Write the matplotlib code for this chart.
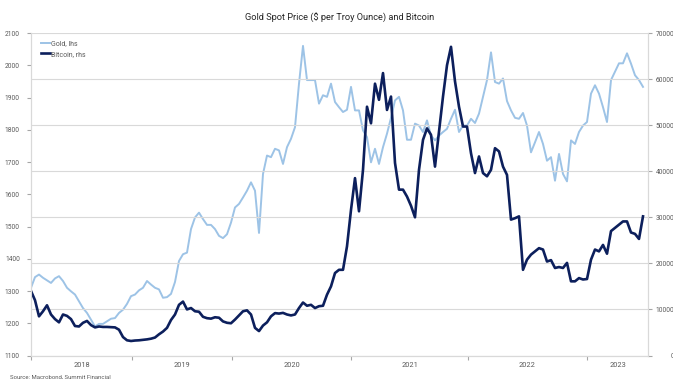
import numpy as np
import matplotlib.pyplot as plt

plt.rcParams['font.family'] = ['Roboto', 'DejaVu Sans']

# Weekly-ish samples, Jan 2018 -> mid 2023
gold = [1310, 1343, 1351, 1341, 1333, 1325, 1339, 1346, 1331, 1310,
        1299, 1289, 1268, 1247, 1232, 1211, 1190, 1198, 1198, 1206,
        1214, 1216, 1232, 1242, 1260, 1284, 1289, 1302, 1310, 1331,
        1320, 1310, 1305, 1279, 1281, 1291, 1328, 1393, 1414, 1419,
        1492, 1528, 1543, 1523, 1505, 1505, 1492, 1471, 1464, 1476,
        1512, 1559, 1570, 1590, 1611, 1637, 1611, 1480, 1663, 1720,
        1715, 1741, 1736, 1694, 1746, 1772, 1808, 1943, 2060, 1954,
        1954, 1954, 1881, 1907, 1902, 1943, 1886, 1870, 1855, 1862,
        1933, 1860, 1860, 1798, 1777, 1699, 1741, 1694, 1746, 1788,
        1837, 1891, 1902, 1860, 1769, 1769, 1819, 1813, 1793, 1829,
        1782, 1767, 1782, 1793, 1803, 1834, 1862, 1793, 1813, 1813,
        1834, 1821, 1850, 1902, 1954, 2040, 1948, 1943, 1959, 1889,
        1860, 1837, 1834, 1852, 1813, 1730, 1761, 1793, 1756, 1704,
        1715, 1642, 1725, 1663, 1640, 1767, 1756, 1793, 1813, 1824,
        1912, 1938, 1912, 1870, 1824, 1954, 1980, 2006, 2006, 2037,
        2005, 1969, 1954, 1933]

bitcoin = [14000, 12000, 8500, 9600, 10900, 8900, 7900, 7200, 8900, 8600,
           7900, 6400, 6300, 7100, 7500, 6600, 6100, 6300, 6200, 6200,
           6150, 6100, 5600, 4000, 3300, 3150, 3250, 3300, 3400, 3500,
           3650, 3900, 4600, 5200, 6000, 7700, 8900, 11000, 11700, 10000,
           10300, 9600, 9500, 8400, 8100, 8000, 8300, 8200, 7400, 7100,
           7000, 7800, 8700, 9600, 9800, 8900, 6000, 5300, 6500, 7200,
           8500, 9200, 9100, 9250, 8900, 8700, 8900, 10300, 11500, 10800,
           11000, 10300, 10700, 10800, 13200, 15000, 17900, 18600, 18600, 23700,
           31600, 38500, 31300, 40300, 54000, 50400, 59000, 55500, 61300, 53300,
           56200, 41800, 36000, 36000, 34500, 32500, 30000, 40300, 46800, 49300,
           47900, 41000, 48600, 56200, 63000, 67000, 59500, 54000, 49700, 49700,
           43900, 39600, 43200, 39600, 38900, 40300, 45000, 44300, 41000, 39200,
           29500, 29800, 30200, 18600, 20800, 21900, 22600, 23300, 23000, 20400,
           20700, 19000, 19200, 19000, 20100, 16100, 16100, 16800, 16500, 16600,
           20800, 23000, 22600, 24000, 22100, 27000, 27700, 28400, 29100, 29100,
           26700, 26400, 25300, 30200]

years = ['2018', '2019', '2020', '2021', '2022', '2023']
year_starts = [0, 25.25, 50.25, 80, 109.25, 139]
x_end = 154.25

x = np.arange(len(gold))

fig = plt.figure(figsize=(6.73, 3.79), dpi=100)
ax = fig.add_axes([31/673, 1 - 355.5/379, 617/673, 322.5/379])
ax2 = ax.twinx()

grey = '#595959'
light = '#d9d9d9'

l1, = ax.plot(x, gold, color='#9dc3e6', lw=1.4)
l2, = ax2.plot(x, bitcoin, color='#0c1f5c', lw=1.9)

ax.set_xlim(0, x_end)
ax.set_ylim(1100, 2100)
ax.set_yticks(np.arange(1100, 2101, 100))
ax2.set_ylim(0, 70000)
ax2.set_yticks(np.arange(0, 70001, 10000))

ax2.grid(axis='y', color=light, lw=0.8)
ax2.set_axisbelow(True)

# year boundaries as ticks, year names centred in between
mids = [(a + b) / 2 for a, b in zip(year_starts, year_starts[1:] + [x_end])]
ax.set_xticks(year_starts)
ax.set_xticklabels([])
ax.set_xticks(mids, minor=True)
ax.set_xticklabels(years, minor=True)
ax.tick_params(axis='x', which='major', length=3, color='#a6a6a6')
ax.tick_params(axis='x', which='minor', length=0, pad=5, labelsize=5.3, labelcolor=grey)

ax.tick_params(axis='y', length=3, color='#a6a6a6', labelsize=4.8, labelcolor=grey, pad=5)
ax2.tick_params(axis='y', length=3, color='#a6a6a6', labelsize=4.8, labelcolor=grey, pad=16)
for lab in ax2.get_yticklabels():
    lab.set_ha('right')

for a in (ax, ax2):
    a.spines['top'].set_visible(False)
    for s in ('left', 'right', 'bottom'):
        a.spines[s].set_color(light)
        a.spines[s].set_linewidth(0.8)

ax.set_title('Gold Spot Price ($ per Troy Ounce) and Bitcoin', fontsize=6.7, color='#262626', pad=9)

ax2.legend([l1, l2], ['Gold, lhs', 'Bitcoin, rhs'], loc='upper left',
           bbox_to_anchor=(0.012, 0.985), frameon=False, fontsize=5,
           handlelength=1.2, handletextpad=0.15, labelspacing=0.45,
           borderaxespad=0, labelcolor=grey)

fig.text(10/673, 1 - 377/379, 'Source: Macrobond, Summit Financial',
         fontsize=4.3, color=grey, va='center')

fig.savefig('out.png', dpi=100)
